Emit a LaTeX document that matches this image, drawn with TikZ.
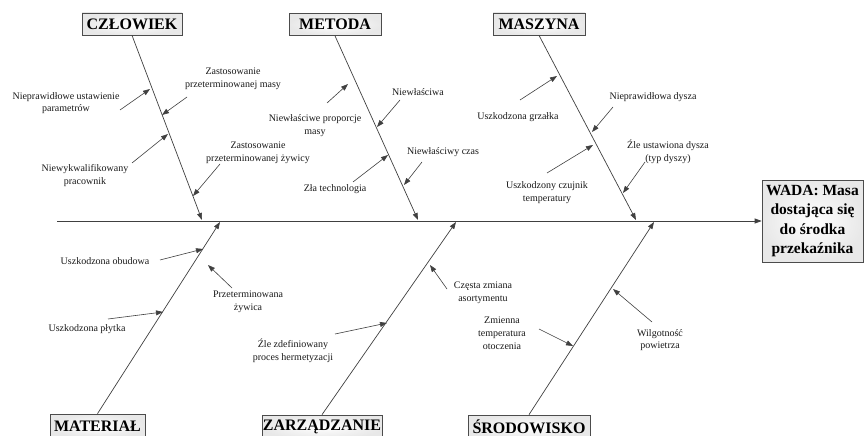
\documentclass[tikz,border=0pt]{standalone}
\usepackage{fontspec}
\setmainfont{Liberation Serif}
\usetikzlibrary{arrows.meta}
\begin{document}
\begin{tikzpicture}[x=1pt,y=-1pt,
  bone/.style={draw=black!75, line width=0.7pt, -{Triangle[length=7pt,width=5pt]}},
  twig/.style={draw=black!75, line width=0.6pt, -{Triangle[length=7pt,width=5pt]}},
  catbox/.style={draw=black!70, line width=0.7pt, inner color=white, outer color=black!9, inner sep=0pt, minimum height=22pt, font=\fontsize{16}{18}\selectfont\bfseries},
  lbl/.style={align=center, inner sep=0pt, font=\fontsize{10}{12.8}\selectfont, text=black!90}]
\useasboundingbox (0,0) rectangle (865,436);
\clip (0,0) rectangle (865,436);
\fill[white] (0,0) rectangle (865,436);
% category boxes
\node[catbox, minimum width=100pt] (czl) at (132,24) {CZŁOWIEK};
\node[catbox, minimum width=92pt] (met) at (335,24.5) {METODA};
\node[catbox, minimum width=92pt] (mas) at (539,24) {MASZYNA};
\node[catbox, minimum width=95pt, minimum height=24pt] (mat) at (97.5,426) {MATERIAŁ};
\node[catbox, minimum width=120pt, minimum height=24pt] (zar) at (322,427) {ZARZĄDZANIE};
\node[catbox, minimum width=122pt, minimum height=24pt] (sro) at (529,427) {ŚRODOWISKO};
\node[catbox, minimum width=101pt, minimum height=82pt, align=center, font=\fontsize{15.5}{19.3}\selectfont\bfseries] (wada) at (812.5,221) {WADA: Masa\\dostająca się\\do środka\\przekaźnika};
% spine
\coordinate (s0) at (57,221);
\draw[bone] (s0) -- (wada.west);
% bone end points
\coordinate (eczl) at (202,220);
\coordinate (emet) at (418,220);
\coordinate (emas) at (636,220);
\coordinate (emat) at (220,222);
\coordinate (ezar) at (456,222);
\coordinate (esro) at (654,222);
\draw[bone] (czl.south) -- (eczl);
\draw[bone] (met.south) -- (emet);
\draw[bone] (mas.south) -- (emas);
\draw[bone] (mat.north) -- (emat);
\draw[bone] (zar.north) -- (ezar);
\draw[bone] (sro.north) -- (esro);
% CZŁOWIEK causes
\node[lbl] (c1) at (66,103) {Nieprawidłowe ustawienie\\parametrów};
\node[lbl] (c2) at (233,79) {Zastosowanie\\przeterminowanej masy};
\node[lbl] (c3) at (85,175.5) {Niewykwalifikowany\\pracownik};
\node[lbl] (c4) at (258,153) {Zastosowanie\\przeterminowanej żywicy};
\coordinate (c1a) at (120,110); \coordinate (c1b) at (150,89);
\coordinate (c2a) at (187,97);  \coordinate (c2b) at (162,115);
\coordinate (c3a) at (132,163); \coordinate (c3b) at (168,134);
\coordinate (c4a) at (220,164); \coordinate (c4b) at (193,196);
\draw[twig] (c1a) -- (c1b);
\draw[twig] (c2a) -- (c2b);
\draw[twig] (c3a) -- (c3b);
\draw[twig] (c4a) -- (c4b);
% METODA causes
\node[lbl] (m1) at (315,125.5) {Niewłaściwe proporcje\\masy};
\node[lbl] (m2) at (418,92) {Niewłaściwa};
\node[lbl] (m3) at (335,189) {Zła technologia};
\node[lbl] (m4) at (443,152) {Niewłaściwy czas};
\coordinate (m1a) at (327,103); \coordinate (m1b) at (348,84);
\coordinate (m2a) at (400,100); \coordinate (m2b) at (377,127);
\coordinate (m3a) at (353,182); \coordinate (m3b) at (388,155);
\coordinate (m4a) at (422,162); \coordinate (m4b) at (404,185);
\draw[twig] (m1a) -- (m1b);
\draw[twig] (m2a) -- (m2b);
\draw[twig] (m3a) -- (m3b);
\draw[twig] (m4a) -- (m4b);
% MASZYNA causes
\node[lbl] (x1) at (518,117) {Uszkodzona grzałka};
\node[lbl] (x2) at (653,97) {Nieprawidłowa dysza};
\node[lbl] (x3) at (547,192.5) {Uszkodzony czujnik\\temperatury};
\node[lbl] (x4) at (668,152) {Źle ustawiona dysza\\(typ dyszy)};
\coordinate (x1a) at (520,100); \coordinate (x1b) at (557,76);
\coordinate (x2a) at (613,107); \coordinate (x2b) at (592,132);
\coordinate (x3a) at (547,173); \coordinate (x3b) at (593,145);
\coordinate (x4a) at (645,162); \coordinate (x4b) at (623,193);
\draw[twig] (x1a) -- (x1b);
\draw[twig] (x2a) -- (x2b);
\draw[twig] (x3a) -- (x3b);
\draw[twig] (x4a) -- (x4b);
% MATERIAŁ causes
\node[lbl] (t1) at (105,261) {Uszkodzona obudowa};
\node[lbl] (t2) at (248,302) {Przeterminowana\\żywica};
\node[lbl] (t3) at (87,329) {Uszkodzona płytka};
\coordinate (t1a) at (160,260); \coordinate (t1b) at (203,249);
\coordinate (t2a) at (232,288); \coordinate (t2b) at (208,265);
\coordinate (t3a) at (108,319); \coordinate (t3b) at (163,312);
\draw[twig] (t1a) -- (t1b);
\draw[twig] (t2a) -- (t2b);
\draw[twig] (t3a) -- (t3b);
% ZARZĄDZANIE causes
\node[lbl] (z1) at (483,293) {Częsta zmiana\\asortymentu};
\node[lbl] (z2) at (293,351) {Źle zdefiniowany\\proces hermetyzacji};
\coordinate (z1a) at (447,289); \coordinate (z1b) at (430,265);
\coordinate (z2a) at (335,334); \coordinate (z2b) at (387,323);
\draw[twig] (z1a) -- (z1b);
\draw[twig] (z2a) -- (z2b);
% ŚRODOWISKO causes
\node[lbl] (r1) at (502,333.5) {Zmienna\\temperatura\\otoczenia};
\node[lbl] (r2) at (660,340) {Wilgotność\\powietrza};
\coordinate (r1a) at (539,329); \coordinate (r1b) at (573,346);
\coordinate (r2a) at (652,322); \coordinate (r2b) at (613,289);
\draw[twig] (r1a) -- (r1b);
\draw[twig] (r2a) -- (r2b);
\end{tikzpicture}
\end{document}
